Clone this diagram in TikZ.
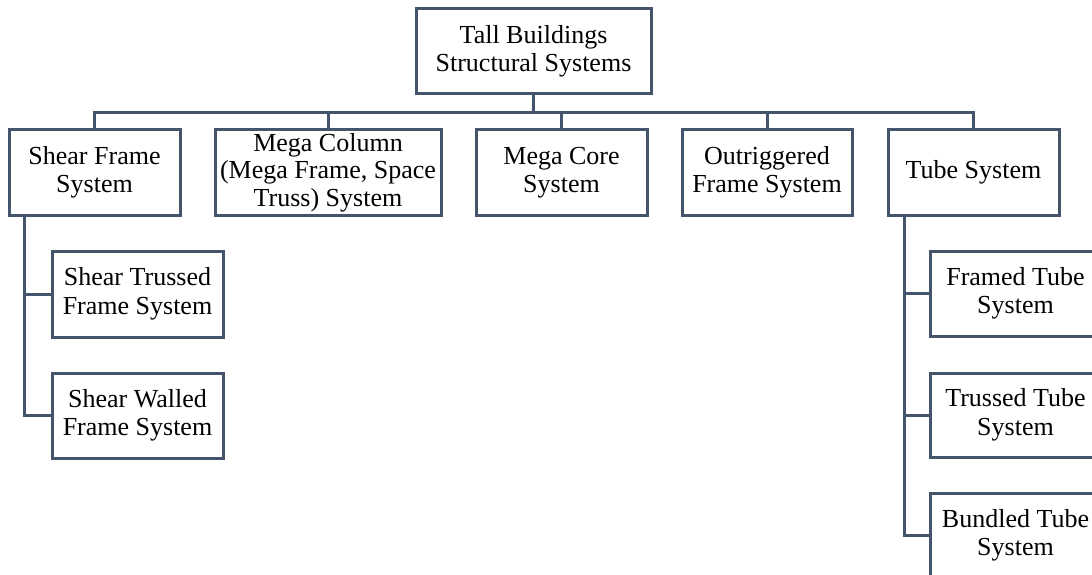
\documentclass[tikz,border=0pt]{standalone}
\usepackage{fontspec}
\setmainfont{Liberation Serif}
\definecolor{boxcol}{HTML}{44546A}
\begin{document}
\begin{tikzpicture}[x=1pt,y=-1pt,
  box/.style={draw=boxcol,line width=3pt,fill=white,inner sep=0pt,
    minimum width=171pt,text width=171pt,minimum height=86pt,align=flush center,
    font=\fontsize{26}{28.5}\selectfont},
  conn/.style={draw=boxcol,line width=3pt,line join=miter}]
\useasboundingbox (0,0) rectangle (1092,575);
\clip (0,0) rectangle (1092,575);
% top
\node[box,minimum width=235pt,text width=235pt,minimum height=85pt] (top) at (533.5,51.5) {Tall Buildings\\Structural Systems};
% level 1
\node[box] (sf) at (94.5,172.5) {Shear Frame\\System};
\node[box,minimum width=226pt,text width=226pt,font=\fontsize{26}{27.5}\selectfont] (mc) at (328,172.5) {Mega Column\\\mbox{(Mega Frame, Space}\\Truss) System};
\node[box] (mco) at (561.5,172.5) {Mega Core\\System};
\node[box,minimum width=170pt,text width=170pt] (og) at (767,172.5) {Outriggered\\Frame System};
\node[box] (tb) at (973.5,172.5) {Tube System};
% level 2 left
\node[box] (st) at (137.5,294) {Shear Trussed\\Frame System};
\node[box,minimum height=85pt] (sw) at (137.5,415.5) {Shear Walled\\Frame System};
% level 2 right
\node[box,minimum height=85pt] (ft) at (1015.5,293.5) {Framed Tube\\System};
\node[box,minimum height=84pt] (tt) at (1015.5,415) {Trussed Tube\\System};
\node[box,minimum height=85pt] (bt) at (1015.5,535.5) {Bundled Tube\\System};
% connectors
\coordinate (bus) at (0,113);
\coordinate (sfl) at ([xshift=17pt]sf.south west);
\coordinate (tbl) at ([xshift=18pt]tb.south west);
\draw[conn] (top.south) -- (top.south |- bus);
\draw[conn] (sf.north) -- (sf.north |- bus) -- (tb.north |- bus) -- (tb.north);
\draw[conn] (mc.north) -- (mc.north |- bus);
\draw[conn] (mco.north) -- (mco.north |- bus);
\draw[conn] (og.north) -- (og.north |- bus);
\draw[conn] (sfl) |- (st.west);
\draw[conn] (sfl) |- (sw.west);
\draw[conn] (tbl) |- (ft.west);
\draw[conn] (tbl) |- (tt.west);
\draw[conn] (tbl) |- (bt.west);
\end{tikzpicture}
\end{document}
